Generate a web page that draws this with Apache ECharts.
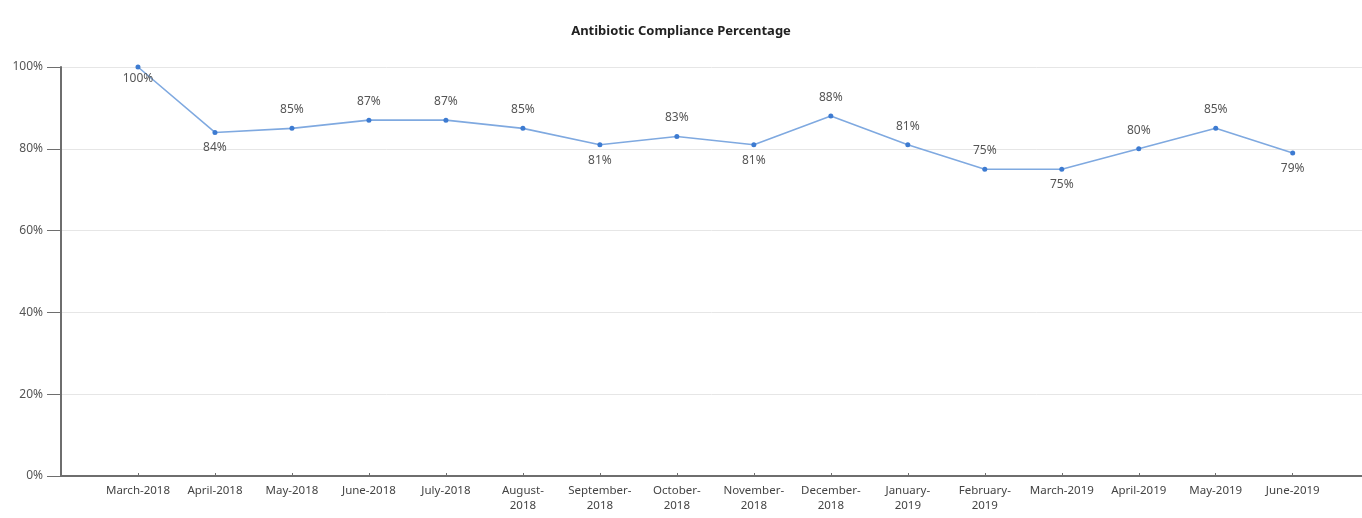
<!DOCTYPE html>
<html>
<head>
<meta charset="utf-8">
<title>Antibiotic Compliance Percentage</title>
<script src="https://cdn.jsdelivr.net/npm/echarts@6/dist/echarts.min.js"></script>
<style>
  html, body { margin: 0; padding: 0; background: #ffffff; }
  #chart { width: 1362px; height: 518px; }
</style>
</head>
<body>
<div id="chart"></div>
<script>
// Monthly compliance figures
const months = [
  'March-2018', 'April-2018', 'May-2018', 'June-2018', 'July-2018', 'August-2018',
  'September-2018', 'October-2018', 'November-2018', 'December-2018', 'January-2019',
  'February-2019', 'March-2019', 'April-2019', 'May-2019', 'June-2019'
];
const compliance = [100, 84, 85, 87, 87, 85, 81, 83, 81, 88, 81, 75, 75, 80, 85, 79];
const yTicks = [0, 20, 40, 60, 80, 100];

// Points whose value label sits under the marker
const labelsBelow = [0, 1, 6, 8, 12, 15];

const font = '"Noto Sans", "DejaVu Sans", sans-serif';

// Long month names wrap after the hyphen
function wrapMonth(name) {
  return name.length > 10 ? name.replace('-', '-\n') : name;
}

const points = compliance.map((v, i) => {
  const below = labelsBelow.includes(i);
  return {
    value: [i + 1, v],
    label: {
      position: below ? 'bottom' : 'top',
      distance: below ? (i === 0 ? 3 : 7) : 10
    }
  };
});

const chart = echarts.init(document.getElementById('chart'), null, { renderer: 'canvas' });

chart.setOption({
  animation: false,
  backgroundColor: '#ffffff',
  title: {
    text: 'Antibiotic Compliance Percentage',
    left: 'center',
    top: 20,
    textStyle: { fontFamily: font, fontSize: 13, fontWeight: 'bold', color: '#222' }
  },
  grid: { left: 61, right: 0, top: 67, bottom: 42, containLabel: false },
  xAxis: {
    type: 'value',
    min: 0,
    max: 16.9,
    interval: 1,
    axisLine: { show: true, lineStyle: { color: '#6e6e6e', width: 2 } },
    axisTick: { show: true, inside: true, length: 3, lineStyle: { color: '#6e6e6e', width: 1 } },
    splitLine: { show: false },
    axisLabel: {
      margin: 7,
      fontFamily: font,
      fontSize: 11.5,
      color: '#444',
      lineHeight: 15,
      showMinLabel: false,
      showMaxLabel: false,
      formatter: function (v) {
        if (Number.isInteger(v) && v >= 1 && v <= months.length) return wrapMonth(months[v - 1]);
        return '';
      }
    }
  },
  yAxis: {
    type: 'value',
    min: yTicks[0],
    max: yTicks[yTicks.length - 1],
    interval: 20,
    axisLine: { show: true, lineStyle: { color: '#6e6e6e', width: 2 } },
    axisTick: { show: true, length: 14, lineStyle: { color: '#6e6e6e', width: 1 } },
    splitLine: { show: true, lineStyle: { color: '#e6e6e6', width: 1 } },
    axisLabel: {
      margin: 18,
      fontFamily: font,
      fontSize: 12,
      color: '#555',
      formatter: '{value}%'
    }
  },
  series: [{
    type: 'line',
    data: points,
    symbol: 'circle',
    symbolSize: 5,
    lineStyle: { color: '#7fa9e0', width: 1.6 },
    itemStyle: { color: '#3d7bd1' },
    label: {
      show: true,
      fontFamily: font,
      fontSize: 12,
      color: '#555',
      formatter: function (p) { return p.value[1] + '%'; }
    }
  }]
});
</script>
</body>
</html>
